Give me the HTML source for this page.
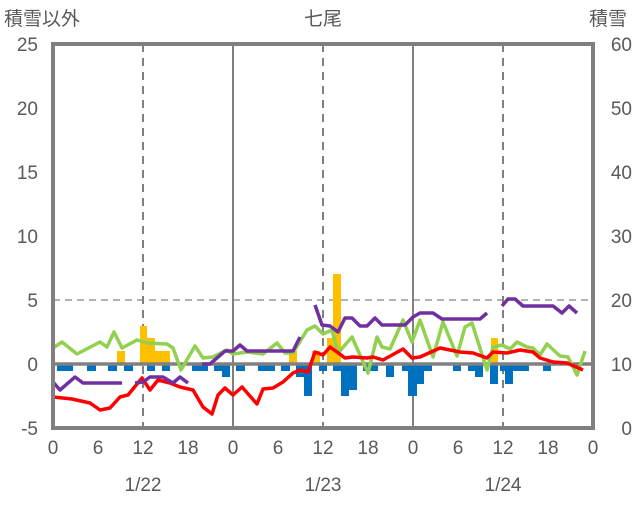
<!DOCTYPE html>
<html><head><meta charset="utf-8"><style>
html,body{margin:0;padding:0;background:#fff;}
svg text{font-family:"Liberation Sans","Noto Sans CJK JP",sans-serif;fill:#595959;}
</style></head><body>
<svg width="636" height="501" viewBox="0 0 636 501" xmlns="http://www.w3.org/2000/svg">
<rect width="636" height="501" fill="#fff"/>
<text x="4" y="25" font-size="19">積雪以外</text>
<text x="323" y="25" font-size="19" text-anchor="middle">七尾</text>
<text x="589" y="25" font-size="19">積雪</text>
<g font-size="19" text-anchor="end">
<text x="38" y="51">25</text><text x="38" y="115">20</text><text x="38" y="179">15</text><text x="38" y="243">10</text><text x="38" y="307">5</text><text x="38" y="371">0</text><text x="38" y="435">-5</text>
</g>
<g font-size="19" text-anchor="end">
<text x="632" y="51">60</text><text x="632" y="115">50</text><text x="632" y="179">40</text><text x="632" y="243">30</text><text x="632" y="307">20</text><text x="632" y="371">10</text><text x="632" y="435">0</text>
</g>
<g font-size="19" text-anchor="middle">
<text x="53" y="454">0</text><text x="98" y="454">6</text><text x="143" y="454">12</text><text x="188" y="454">18</text>
<text x="233" y="454">0</text><text x="278" y="454">6</text><text x="323" y="454">12</text><text x="368" y="454">18</text>
<text x="413" y="454">0</text><text x="458" y="454">6</text><text x="503" y="454">12</text><text x="548" y="454">18</text>
<text x="593" y="454">0</text>
<text x="143" y="491">1/22</text><text x="323" y="491">1/23</text><text x="503" y="491">1/24</text>
</g>
<line x1="53" y1="300" x2="593" y2="300" stroke="#999" stroke-width="1.5" stroke-dasharray="7,5"/>
<g stroke="#808080" stroke-width="2" stroke-dasharray="8,6">
<line x1="143" y1="44" x2="143" y2="428"/><line x1="323" y1="44" x2="323" y2="428"/><line x1="503" y1="44" x2="503" y2="428"/>
</g>
<line x1="233" y1="44" x2="233" y2="428" stroke="#808080" stroke-width="2"/>
<line x1="413" y1="44" x2="413" y2="428" stroke="#808080" stroke-width="2"/>
<g fill="#FFC000">
<rect x="117" y="351" width="8" height="13"/>
<rect x="140" y="326" width="7" height="38"/>
<rect x="147" y="338" width="8" height="26"/>
<rect x="155" y="351" width="15" height="13"/>
<rect x="289" y="351" width="8" height="13"/>
<rect x="312" y="351" width="8" height="13"/>
<rect x="327" y="338" width="6" height="26"/>
<rect x="333" y="274" width="8" height="90"/>
<rect x="491" y="338" width="7" height="26"/>
</g>
<g fill="#0070C0">
<rect x="57" y="364" width="16" height="7"/><rect x="87" y="364" width="9" height="7"/><rect x="108" y="364" width="9" height="7"/><rect x="124" y="364" width="9" height="7"/><rect x="147" y="364" width="8" height="7"/><rect x="162" y="364" width="8" height="7"/><rect x="192" y="364" width="16" height="7"/><rect x="214" y="364" width="8" height="7"/><rect x="222" y="364" width="8" height="13"/><rect x="236" y="364" width="9" height="7"/><rect x="258" y="364" width="17" height="7"/><rect x="281" y="364" width="9" height="7"/><rect x="296" y="364" width="8" height="13"/><rect x="304" y="364" width="8" height="32"/>
<rect x="319" y="364" width="8" height="7"/><rect x="333" y="364" width="8" height="7"/><rect x="341" y="364" width="8" height="32"/><rect x="349" y="364" width="8" height="26"/><rect x="363" y="364" width="15" height="7"/><rect x="386" y="364" width="8" height="13"/><rect x="402" y="364" width="6" height="7"/><rect x="408" y="364" width="9" height="32"/><rect x="417" y="364" width="7" height="20"/><rect x="424" y="364" width="8" height="7"/><rect x="453" y="364" width="8" height="7"/><rect x="468" y="364" width="7" height="7"/><rect x="475" y="364" width="8" height="13"/><rect x="490" y="364" width="8" height="20"/><rect x="500" y="364" width="5" height="7"/><rect x="505" y="364" width="8" height="20"/><rect x="513" y="364" width="16" height="7"/><rect x="543" y="364" width="8" height="7"/>
</g>
<line x1="53" y1="364" x2="593" y2="364" stroke="#808080" stroke-width="3.5"/>
<g fill="none" stroke-width="3.5" stroke-linejoin="round">
<polyline stroke="#92D050" points="53,348 62,342 77,354 100,342 107,347 114,332 122,348 137,340 147,343 167,344 173,348 181,370 195,346 203,358 213,357 227,350 233,354 247,352 263,354 277,343 285,353 293,353 307,330 315,326 323,334 332,330 338,353 352,337 368,373 377,337 382,347 390,349 403,320 412,342 420,320 433,357 443,322 457,356 465,327 472,323 487,370 493,347 502,345 510,349 517,342 527,347 533,348 540,355 547,344 560,356 568,357 577,375 585,351"/>
<polyline stroke="#FF0000" points="53,397 72,399 90,403 100,410 110,408 120,397 128,395 142,378 150,390 158,380 170,383 180,387 193,390 203,407 212,414 218,395 225,388 233,395 242,387 257,404 263,389 273,388 283,382 293,373 300,370 308,372 315,352 323,355 330,347 337,352 345,358 353,357 367,358 373,357 383,360 403,349 412,358 420,357 440,348 460,352 473,353 487,358 493,352 507,353 520,350 533,352 540,358 553,362 567,363 583,370"/>
<polyline stroke="#7030A0" points="53,382 60,390 75,377 83,383 122,383"/>
<polyline stroke="#7030A0" points="135,383 143,382 150,377 163,377 173,383 180,377 188,383"/>
<polyline stroke="#7030A0" points="202,364 210,364 225,351 233,351 240,345 247,351 293,351 300,337"/>
<polyline stroke="#7030A0" points="315,305 322,325 330,326 338,332 345,318 352,318 360,326 367,326 375,318 382,325 405,325 413,317 420,313 433,313 442,319 480,319 487,313"/>
<polyline stroke="#7030A0" points="502,306 508,299 515,299 523,306 553,306 562,313 569,306 577,313"/>
</g>
<rect x="53" y="44" width="540" height="384" fill="none" stroke="#808080" stroke-width="4"/>
</svg>
</body></html>
